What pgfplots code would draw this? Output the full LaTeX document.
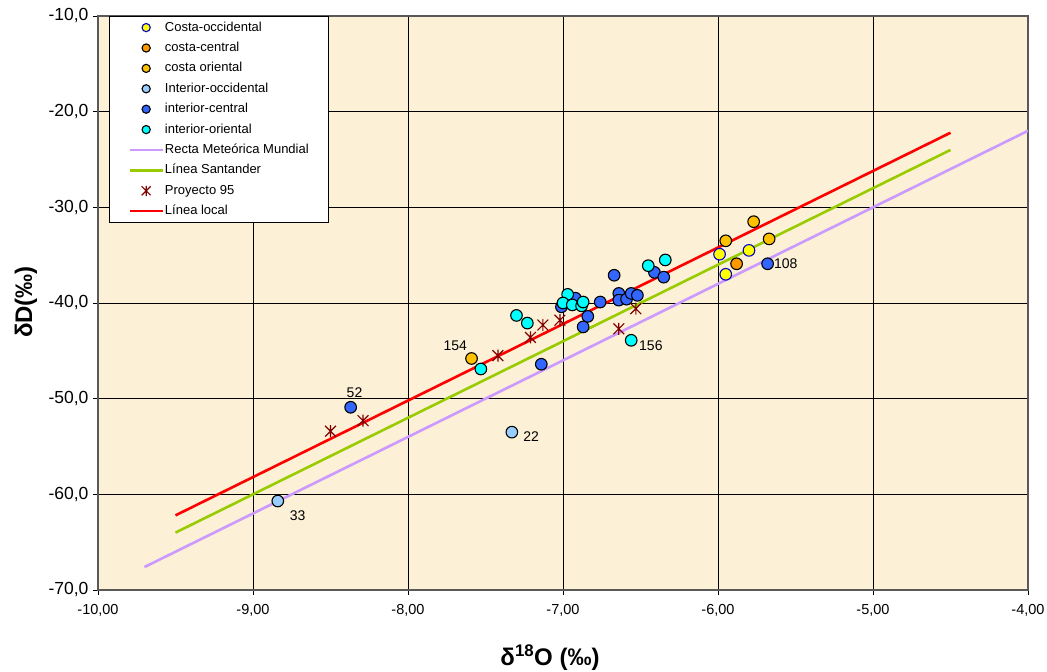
\documentclass[border=0pt]{standalone}
\usepackage{pgfplots}
\pgfplotsset{compat=1.18}
\usepackage{fontspec}
\setmainfont{Liberation Sans}

\definecolor{bgpaper}{RGB}{252,240,214}
\definecolor{cocc}{RGB}{255,255,0}
\definecolor{coccb}{RGB}{0,0,204}
\definecolor{ccen}{RGB}{255,153,0}
\definecolor{cori}{RGB}{255,192,0}
\definecolor{iocc}{RGB}{153,204,255}
\definecolor{icen}{RGB}{51,102,255}
\definecolor{iori}{RGB}{0,255,255}
\definecolor{pr95}{RGB}{128,0,0}
\definecolor{rmm}{RGB}{204,153,255}
\definecolor{lsan}{RGB}{153,204,0}
\definecolor{lloc}{RGB}{255,0,0}

% Excel-like star marker: vertical bar plus a cross
\pgfdeclareplotmark{xstar}{%
  \pgfpathmoveto{\pgfqpoint{0pt}{-\pgfplotmarksize}}%
  \pgfpathlineto{\pgfqpoint{0pt}{\pgfplotmarksize}}%
  \pgfpathmoveto{\pgfqpoint{-.9\pgfplotmarksize}{-.9\pgfplotmarksize}}%
  \pgfpathlineto{\pgfqpoint{.9\pgfplotmarksize}{.9\pgfplotmarksize}}%
  \pgfpathmoveto{\pgfqpoint{-.9\pgfplotmarksize}{.9\pgfplotmarksize}}%
  \pgfpathlineto{\pgfqpoint{.9\pgfplotmarksize}{-.9\pgfplotmarksize}}%
  \pgfusepathqstroke}

\pgfplotsset{
  legmark/.style={legend image code/.code={\draw[##1, mark size=4.1pt] plot coordinates {(16.5pt,0pt)};}},
  legstar/.style={legend image code/.code={\draw[##1, mark size=5pt] plot coordinates {(16.5pt,0pt)};}},
  legline/.style={legend image code/.code={\draw[##1] (0pt,0pt) -- (33pt,0pt);}},
  dot/.style={only marks, mark=*, mark size=5.8pt,
    mark options={draw=black, fill=#1, line width=1.1pt}, legmark},
}

\begin{document}
\begin{tikzpicture}
\useasboundingbox (0,0) rectangle (1047pt,672pt);
\begin{axis}[
  scale only axis, width=930pt, height=574pt,
  at={(98pt,82pt)}, anchor=south west,
  xmin=-10, xmax=-4, ymin=-70, ymax=-10,
  xtick={-10,-9,-8,-7,-6,-5,-4},
  xticklabels={{-10,00},{-9,00},{-8,00},{-7,00},{-6,00},{-5,00},{-4,00}},
  ytick={-70,-60,-50,-40,-30,-20,-10},
  yticklabels={{-70,0},{-60,0},{-50,0},{-40,0},{-30,0},{-20,0},{-10,0}},
  xtick pos=left, ytick pos=left,
  tick align=outside, major tick length=5pt,
  tick style={black, line width=0.8pt},
  grid=major, major grid style={black, line width=0.7pt},
  axis background/.style={fill=bgpaper},
  axis line style={draw=gray!70!black, line width=1.3pt},
  xticklabel style={font=\fontsize{14.5}{17}\selectfont, yshift=-6pt},
  yticklabel style={font=\fontsize{17.5}{19}\selectfont, xshift=-1pt},
  legend style={at={(0.0118,1)}, anchor=north west, draw=black, fill=white,
    line width=0.8pt, font=\fontsize{13}{15}\selectfont,
    inner xsep=19pt, inner ysep=1pt,
    nodes={inner xsep=1pt, inner ysep=3.7pt, text height=10pt, text depth=3pt}},
  legend cell align=left,
]
% lines drawn first so the points sit on top
\addplot[rmm, line width=2.6pt, forget plot] coordinates {(-9.7,-67.6) (-4.0,-22.0)};
\addplot[lsan, line width=2.6pt, forget plot] coordinates {(-9.5,-64.0) (-4.5,-24.0)};
\addplot[lloc, line width=2.6pt, forget plot] coordinates {(-9.5,-62.2) (-4.5,-22.2)};

\addplot[only marks, mark=*, mark size=5.8pt,
  mark options={draw=coccb, fill=cocc, line width=1.1pt}, legmark]
  coordinates {(-5.99,-34.9) (-5.95,-37.0) (-5.80,-34.5)};
\addlegendentry{Costa-occidental}
\addplot[dot=ccen] coordinates {(-5.88,-35.9)};
\addlegendentry{costa-central}
\addplot[dot=cori] coordinates {(-5.77,-31.5) (-5.95,-33.5) (-5.67,-33.3) (-7.59,-45.8)};
\addlegendentry{costa oriental}
\addplot[dot=iocc] coordinates {(-7.33,-53.5) (-8.84,-60.7)};
\addlegendentry{Interior-occidental}
\addplot[dot=icen] coordinates {
  (-8.37,-50.9) (-7.14,-46.4) (-5.68,-35.9) (-7.01,-40.4) (-6.92,-39.5)
  (-6.84,-41.4) (-6.87,-42.5) (-6.76,-39.9) (-6.67,-37.1) (-6.64,-39.0)
  (-6.64,-39.7) (-6.59,-39.6) (-6.56,-39.0) (-6.52,-39.2) (-6.41,-36.8)
  (-6.35,-37.3)};
\addlegendentry{interior-central}
\addplot[dot=iori] coordinates {
  (-7.30,-41.3) (-7.23,-42.1) (-6.97,-39.1) (-7.00,-40.0) (-6.94,-40.2)
  (-6.88,-40.3) (-6.87,-39.9) (-7.53,-46.9) (-6.56,-43.9) (-6.45,-36.1)
  (-6.34,-35.5)};
\addlegendentry{interior-oriental}
\addlegendimage{legline, draw=rmm, line width=2.6pt}
\addlegendentry{Recta Meteórica Mundial}
\addlegendimage{legline, draw=lsan, line width=2.6pt}
\addlegendentry{Línea Santander}
\addplot[only marks, mark=xstar, mark size=6pt,
  mark options={draw=pr95, line width=1.2pt}, legstar]
  coordinates {(-8.50,-53.4) (-8.29,-52.3) (-7.42,-45.5) (-7.21,-43.6)
  (-7.13,-42.3) (-7.02,-41.8) (-6.64,-42.7) (-6.53,-40.6)};
\addlegendentry{Proyecto 95}
\addlegendimage{legline, draw=lloc, line width=2.6pt}
\addlegendentry{Línea local}

\begin{scope}[every node/.style={font=\fontsize{14}{15}\selectfont}]
\node at (axis cs:-7.695,-44.48) {154};
\node at (axis cs:-6.433,-44.48) {156};
\node at (axis cs:-5.563,-35.91) {108};
\node at (axis cs:-8.345,-49.40) {52};
\node at (axis cs:-7.205,-53.99) {22};
\node at (axis cs:-8.712,-62.25) {33};
\end{scope}
\end{axis}
\node[rotate=90, font=\bfseries\fontsize{24}{28}\selectfont] at (26pt,370pt) {δD(‰)};
\node[font=\bfseries\fontsize{24}{28}\selectfont] at (550pt,14pt) {δ\textsuperscript{18}O (‰)};
\end{tikzpicture}
\end{document}
